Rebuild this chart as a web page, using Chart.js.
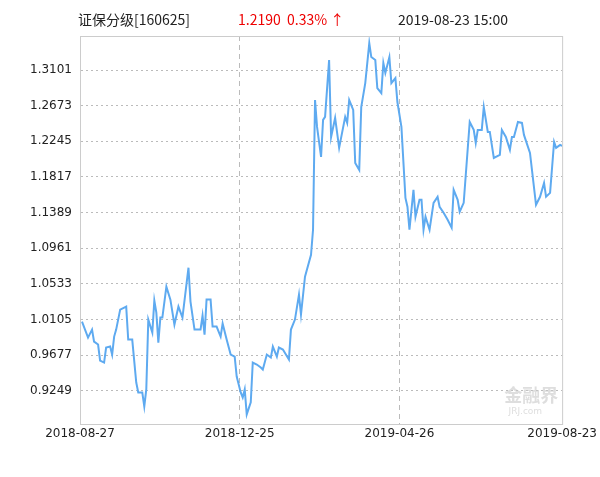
<!DOCTYPE html>
<html>
<head>
<meta charset="utf-8">
<script src="https://cdn.jsdelivr.net/npm/chart.js@4"></script>
<style>
  body { margin: 0; background: #fff; }
  #wrap { position: relative; width: 600px; height: 477px; }
  .hdr { position: absolute; top: 9px; font: 14px "Noto Sans CJK SC", sans-serif; white-space: pre; }
</style>
</head>
<body>
<div id="wrap">
  <canvas id="c" width="600" height="477"></canvas>
  <div class="hdr" style="left:78px;color:#222">证保分级[160625]</div>
  <div class="hdr" style="left:238px;color:#e00">1.2190  0.33% ↑</div>
  <div class="hdr" style="left:398px;color:#222">2019-08-23 15:00</div>
</div>
<script>
// trading-day index and close price
const days = [1,4,6,7,9,10,12,13,15,16,17,18,20,22,23,24,26,28,29,31,32,33,34,36,37,38,39,40,41,43,45,47,49,51,54,55,57,60,61,62,63,65,66,68,70,71,73,75,77,78,80,81,82,83,85,86,88,90,91,93,95,96,98,99,101,104,105,107,109,110,112,115,116,117,118,120,121,122,124,125,127,129,132,133,134,136,137,139,140,142,144,145,147,148,150,151,152,154,155,157,158,160,162,163,164,166,167,169,170,171,172,174,176,178,179,181,183,185,186,188,189,191,194,196,197,198,200,201,203,204,206,209,210,212,214,215,216,218,220,221,224,227,229,231,232,234,236,237,239,240];
const prices = [1.0080,0.9888,0.9984,0.9840,0.9804,0.9612,0.9588,0.9768,0.9780,0.9684,0.9900,0.9984,1.0224,1.0248,1.0260,0.9864,0.9864,0.9348,0.9229,0.9229,0.9061,0.9265,1.0104,0.9948,1.0332,1.0188,0.9828,1.0128,1.0128,1.0499,1.0344,1.0044,1.0260,1.0128,1.0727,1.0320,0.9984,0.9984,1.0152,0.9924,1.0344,1.0344,1.0020,1.0020,0.9900,1.0056,0.9864,0.9684,0.9660,0.9420,0.9229,0.9169,0.9265,0.8965,0.9109,0.9588,0.9564,0.9528,0.9504,0.9684,0.9648,0.9780,0.9660,0.9768,0.9744,0.9624,0.9984,1.0104,1.0404,1.0164,1.0619,1.0883,1.1183,1.2741,1.2418,1.2058,1.2502,1.2538,1.3221,1.2298,1.2526,1.2166,1.2538,1.2466,1.2741,1.2622,1.1986,1.1902,1.2657,1.2945,1.3425,1.3257,1.3221,1.2885,1.2825,1.3185,1.3065,1.3257,1.2945,1.3005,1.2717,1.2418,1.1566,1.1459,1.1183,1.1662,1.1339,1.1542,1.1542,1.1183,1.1339,1.1183,1.1506,1.1578,1.1459,1.1387,1.1303,1.1207,1.1662,1.1542,1.1399,1.1506,1.2478,1.2382,1.2226,1.2382,1.2382,1.2657,1.2358,1.2358,1.2046,1.2082,1.2382,1.2298,1.2142,1.2298,1.2298,1.2478,1.2466,1.2322,1.2106,1.1483,1.1579,1.1746,1.1579,1.1626,1.2238,1.2166,1.2202,1.2190];
const yTicks = [0.9249,0.9677,1.0105,1.0533,1.0961,1.1389,1.1817,1.2245,1.2673,1.3101];
const xTickPos = [0, 79.5, 159, 240];
const xTickLabels = ['2018-08-27','2018-12-25','2019-04-26','2019-08-23'];

const tickFont = { family: '"DejaVu Sans", sans-serif', size: 12 };

// faint watermark in the lower right corner
const watermark = {
    id: 'watermark',
    beforeDatasetsDraw(chart) {
        const ctx = chart.ctx, a = chart.chartArea;
        ctx.save();
        ctx.fillStyle = 'rgba(200,200,200,0.6)';
        ctx.font = 'bold 18px "Noto Sans CJK SC"';
        ctx.textAlign = 'right';
        ctx.fillText('金融界', a.right - 4, a.bottom - 22);
        ctx.font = '9px "DejaVu Sans"';
        ctx.fillText('JRJ.com', a.right - 20, a.bottom - 10);
        ctx.restore();
    }
};

new Chart(document.getElementById('c'), {
    type: 'line',
    data: {
        datasets: [{
            data: days.map((d, i) => ({ x: d, y: prices[i] })),
            borderColor: '#5eaaf0',
            borderWidth: 2,
            pointRadius: 0,
            tension: 0
        }]
    },
    options: {
        responsive: false,
        animation: false,
        layout: { padding: { left: 0, top: 36, right: 34, bottom: 29 } },
        plugins: { legend: { display: false }, tooltip: { enabled: false } },
        scales: {
            x: {
                type: 'linear', min: 0, max: 240,
                afterBuildTicks: s => { s.ticks = xTickPos.map(v => ({ value: v })); },
                afterFit: s => { s.height = 24; },
                ticks: {
                    color: '#222', font: tickFont, maxRotation: 0, autoSkip: false,
                    callback: (v, i) => xTickLabels[i]
                },
                grid: {
                    color: (c) => (c.index === 1 || c.index === 2) ? '#bbb' : 'transparent',
                    tickLength: 0
                },
                border: { display: true, color: '#ccc', dash: [5, 4] }
            },
            y: {
                min: 0.885, max: 1.351,
                afterBuildTicks: s => { s.ticks = yTicks.map(v => ({ value: v })); },
                afterFit: s => { s.width = 80; },
                ticks: { color: '#222', font: tickFont, padding: 8, callback: v => v.toFixed(4) },
                grid: { color: '#bbb', tickLength: 0 },
                border: { color: '#ccc', dash: [2, 3] }
            }
        }
    },
    plugins: [watermark, {
        id: 'frame',
        afterDraw(chart) {
            const ctx = chart.ctx, a = chart.chartArea;
            ctx.save();
            ctx.strokeStyle = '#ccc';
            ctx.lineWidth = 1;
            ctx.strokeRect(a.left + 0.5, a.top + 0.5, a.width, a.height);
            ctx.restore();
        }
    }]
});
</script>
</body>
</html>
